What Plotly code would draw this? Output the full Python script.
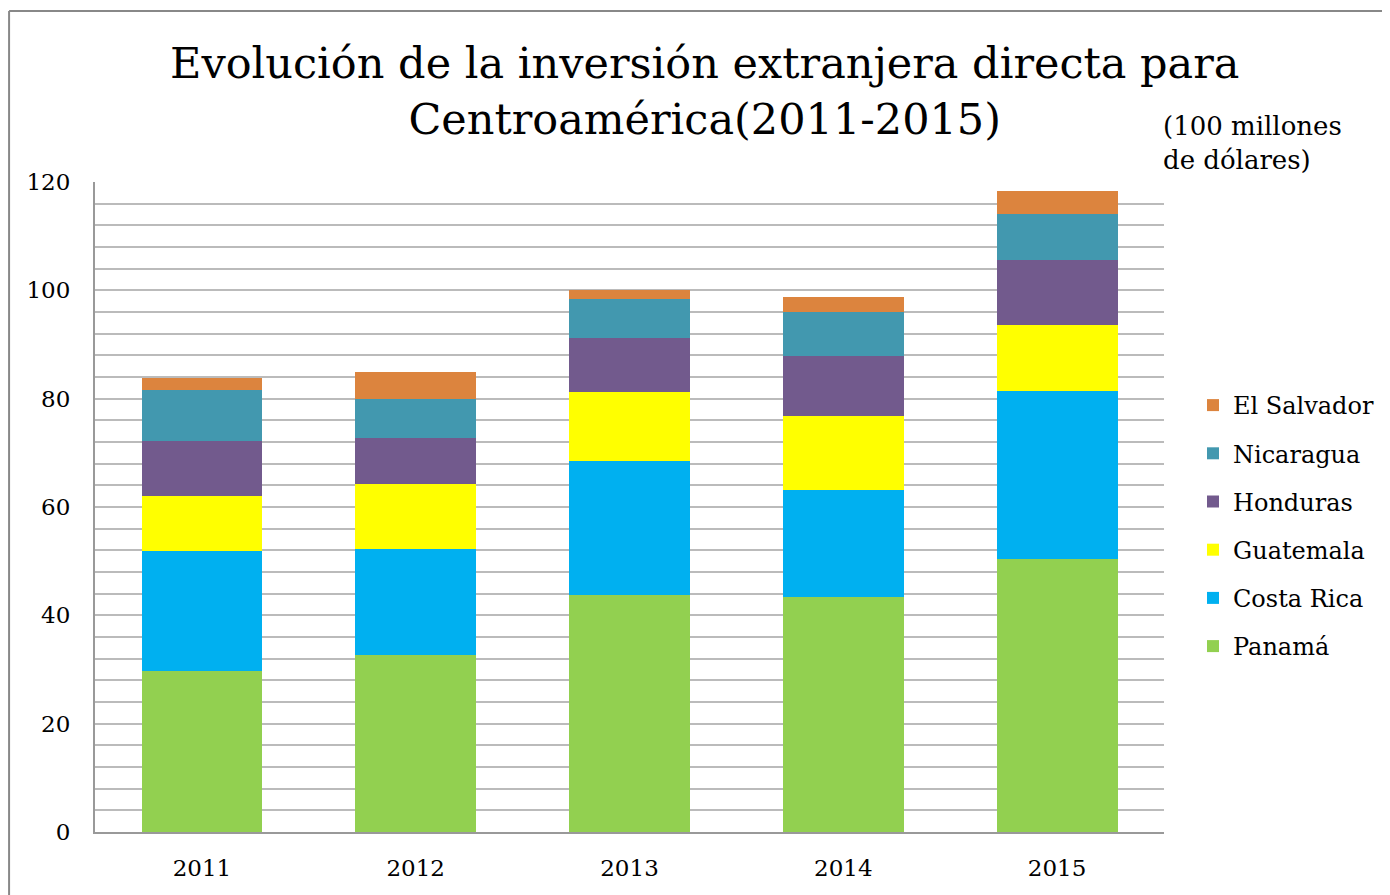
import plotly.graph_objects as go

years = ["2011", "2012", "2013", "2014", "2015"]
countries = ["Panamá", "Costa Rica", "Guatemala", "Honduras", "Nicaragua", "El Salvador"]
colors = ["#92D050", "#00B0F0", "#FFFF00", "#725A8D", "#4298AF", "#DC843E"]

# segment values (100 millones de dólares)
panama = [29.7, 32.7, 43.8, 43.4, 50.4]
costa_rica = [22.2, 19.5, 24.7, 19.7, 31.0]
guatemala = [10.1, 12.0, 12.7, 13.7, 12.2]
honduras = [10.2, 8.5, 10.0, 11.1, 12.0]
nicaragua = [9.4, 7.2, 7.2, 8.1, 8.5]
el_salvador = [2.2, 5.0, 1.7, 2.8, 4.2]

series = [panama, costa_rica, guatemala, honduras, nicaragua, el_salvador]

FONT = "DejaVu Serif"

# page body has an 8px margin; figure is sized to fill the rest of the window
W, H = 1382, 887
OFF = 8
L, R, T, B = 95 - OFF, 225, 182 - OFF, 63
PW, PH = 1070, 650


def px(x):
    return (x - 95) / PW


def py(y):
    return (832 - y) / PH


fig = go.Figure()
n = len(countries)
for i, (name, vals, col) in enumerate(zip(countries, series, colors)):
    fig.add_trace(go.Bar(
        x=years, y=vals, name=name, legendgroup=name, legendrank=n - i,
        marker=dict(color=col, line=dict(width=0)),
    ))

fig.update_layout(
    width=W, height=H,
    barmode="stack", bargap=0.435,
    paper_bgcolor="white", plot_bgcolor="white",
    margin=dict(l=L, r=R, t=T, b=B),
    font=dict(family=FONT, color="black", size=23),
    showlegend=True,
    legend=dict(
        traceorder="grouped", tracegroupgap=14,
        x=px(1193), xanchor="left", y=py(383), yanchor="top",
        font=dict(family=FONT, size=24), itemwidth=30,
        bgcolor="rgba(0,0,0,0)",
    ),
    xaxis=dict(
        showline=True, linecolor="#999999", linewidth=2,
        showgrid=False, ticks="", ticklabelstandoff=14,
        tickfont=dict(family=FONT, size=23),
    ),
    yaxis=dict(
        range=[0, 120], dtick=20, tick0=0,
        showline=True, linecolor="#999999", linewidth=2,
        showgrid=True, gridcolor="#BBBBBB", gridwidth=2,
        minor=dict(dtick=4, showgrid=True, gridcolor="#BBBBBB", gridwidth=2),
        ticks="", ticklabelstandoff=18,
        tickfont=dict(family=FONT, size=23),
        zeroline=False,
    ),
    annotations=[
        dict(text="Evolución de la inversión extranjera directa para<br>Centroamérica(2011-2015)",
             xref="paper", yref="paper", x=px(705), y=py(36),
             xanchor="center", yanchor="top", showarrow=False, align="center",
             font=dict(family=FONT, size=43)),
        dict(text="(100 millones<br>de dólares)",
             xref="paper", yref="paper", x=px(1162), y=py(109),
             xanchor="left", yanchor="top", showarrow=False, align="left",
             font=dict(family=FONT, size=26)),
    ],
    shapes=[
        dict(type="line", xref="paper", yref="paper",
             x0=px(9), x1=px(1400), y0=py(11), y1=py(11),
             line=dict(color="#888888", width=2)),
        dict(type="line", xref="paper", yref="paper",
             x0=px(9), x1=px(9), y0=py(11), y1=py(900),
             line=dict(color="#888888", width=2)),
    ],
)

fig.write_html("out.html")
